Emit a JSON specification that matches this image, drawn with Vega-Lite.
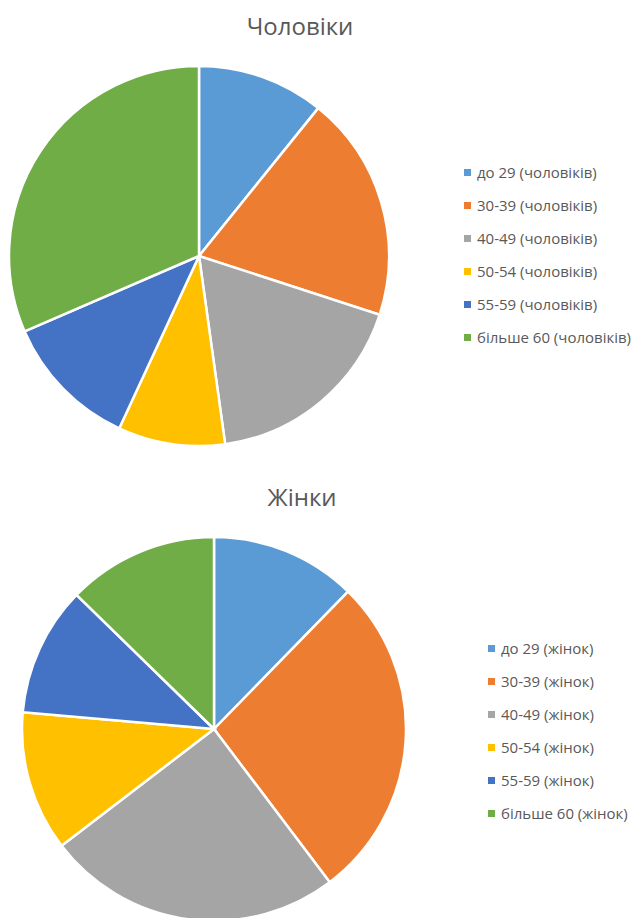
{
  "$schema": "https://vega.github.io/schema/vega-lite/v6.json",
  "padding": {"top": 16, "left": 0, "right": 0, "bottom": 0},
  "background": "white",
  "spacing": 36,
  "config": {"view": {"stroke": null}, "font": "Open Sans"},
  "resolve": {"scale": {"color": "independent"}},
  "datasets": {
    "men": [
      {"i": 1, "group": "до 29 (чоловіків)", "value": 10.8},
      {"i": 2, "group": "30-39 (чоловіків)", "value": 19.2},
      {"i": 3, "group": "40-49 (чоловіків)", "value": 17.8},
      {"i": 4, "group": "50-54 (чоловіків)", "value": 9.1},
      {"i": 5, "group": "55-59 (чоловіків)", "value": 11.6},
      {"i": 6, "group": "більше 60 (чоловіків)", "value": 31.5}
    ],
    "women": [
      {"i": 1, "group": "до 29 (жінок)", "value": 12.3},
      {"i": 2, "group": "30-39 (жінок)", "value": 27.4},
      {"i": 3, "group": "40-49 (жінок)", "value": 24.9},
      {"i": 4, "group": "50-54 (жінок)", "value": 11.8},
      {"i": 5, "group": "55-59 (жінок)", "value": 10.9},
      {"i": 6, "group": "більше 60 (жінок)", "value": 12.7}
    ]
  },
  "vconcat": [
    {
      "data": {"name": "men"},
      "width": 398,
      "height": 384,
      "title": {"text": "Чоловіки", "fontSize": 24, "fontWeight": "normal", "color": "#595959", "dx": 101, "offset": 21},
      "mark": {"type": "arc", "outerRadius": 190, "stroke": "white", "strokeWidth": 2.5},
      "encoding": {
        "theta": {"field": "value", "type": "quantitative", "stack": true},
        "order": {"field": "i", "type": "ordinal"},
        "color": {
          "field": "group", "type": "nominal",
          "scale": {
            "domain": ["до 29 (чоловіків)", "30-39 (чоловіків)", "40-49 (чоловіків)", "50-54 (чоловіків)", "55-59 (чоловіків)", "більше 60 (чоловіків)"],
            "range": ["#5B9BD5", "#ED7D31", "#A5A5A5", "#FFC000", "#4472C4", "#70AD47"]
          },
          "legend": {"title": null, "orient": "none", "legendX": 460, "legendY": 101, "symbolType": "square", "symbolSize": 49, "symbolStrokeWidth": 0, "labelFontSize": 15, "labelColor": "#595959", "rowPadding": 17, "labelOffset": 2, "labelLimit": 300}
        }
      }
    },
    {
      "data": {"name": "women"},
      "width": 428,
      "height": 386,
      "title": {"text": "Жінки", "fontSize": 24, "fontWeight": "normal", "color": "#595959", "dx": 88, "offset": 21},
      "mark": {"type": "arc", "outerRadius": 192, "stroke": "white", "strokeWidth": 2.5},
      "encoding": {
        "theta": {"field": "value", "type": "quantitative", "stack": true},
        "order": {"field": "i", "type": "ordinal"},
        "color": {
          "field": "group", "type": "nominal",
          "scale": {
            "domain": ["до 29 (жінок)", "30-39 (жінок)", "40-49 (жінок)", "50-54 (жінок)", "55-59 (жінок)", "більше 60 (жінок)"],
            "range": ["#5B9BD5", "#ED7D31", "#A5A5A5", "#FFC000", "#4472C4", "#70AD47"]
          },
          "legend": {"title": null, "orient": "none", "legendX": 484, "legendY": 105, "symbolType": "square", "symbolSize": 49, "symbolStrokeWidth": 0, "labelFontSize": 15, "labelColor": "#595959", "rowPadding": 17, "labelOffset": 2, "labelLimit": 300}
        }
      }
    }
  ]
}
